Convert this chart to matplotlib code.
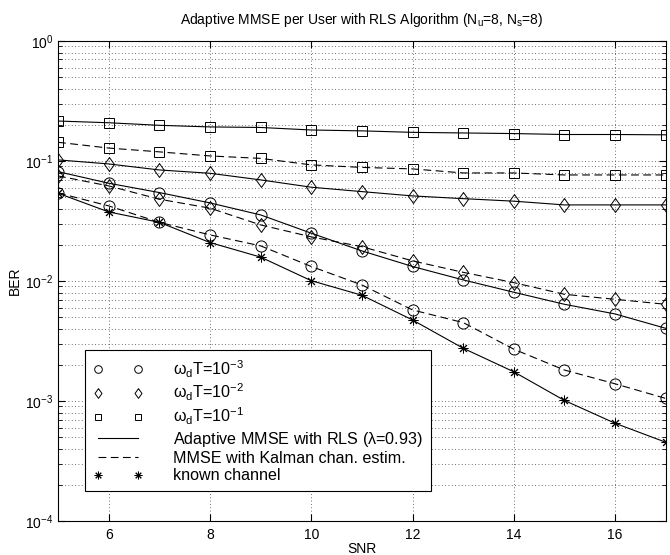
import matplotlib
matplotlib.use("Agg")
import matplotlib.pyplot as plt
from matplotlib.lines import Line2D
from matplotlib.ticker import LogLocator, NullFormatter

plt.rcParams['font.family'] = ['Liberation Sans', 'DejaVu Sans']
plt.rcParams['mathtext.fontset'] = 'custom'
plt.rcParams['mathtext.rm'] = 'Liberation Sans'
plt.rcParams['mathtext.it'] = 'Liberation Sans'

# Dados
snr = [5, 6, 7, 8, 9, 10, 11, 12, 13, 14, 15, 16, 17]

rls_1e1 = [0.215, 0.208, 0.198, 0.192, 0.190, 0.181, 0.178, 0.173, 0.171, 0.169, 0.166, 0.166, 0.165]
kal_1e1 = [0.143, 0.128, 0.119, 0.110, 0.105, 0.0927, 0.0883, 0.0858, 0.0794, 0.0794, 0.0764, 0.0764, 0.0764]
rls_1e2 = [0.102, 0.0944, 0.0841, 0.0789, 0.0695, 0.0604, 0.0555, 0.0511, 0.0485, 0.0462, 0.043, 0.043, 0.043]
kal_1e2 = [0.075, 0.0619, 0.048, 0.0404, 0.0293, 0.0233, 0.0193, 0.0147, 0.0118, 0.00968, 0.00774, 0.00703, 0.00639]
rls_1e3 = [0.0814, 0.0652, 0.0545, 0.0447, 0.0355, 0.0250, 0.0178, 0.0132, 0.0102, 0.00805, 0.00639, 0.00531, 0.00403]
kal_1e3 = [0.0541, 0.0422, 0.0308, 0.0242, 0.0196, 0.0132, 0.00926, 0.00573, 0.00450, 0.00270, 0.00181, 0.00139, 0.00105]
known = [0.0538, 0.0376, 0.0308, 0.0209, 0.0158, 0.01005, 0.0076, 0.00473, 0.00275, 0.00175, 0.00101, 0.000652, 0.000453]

fig = plt.figure(figsize=(6.7, 5.55), dpi=100)
ax = fig.add_axes([0.0866, 0.0613, 0.907, 0.865])

lw = 0.8
ms = 7
dash = (0, (7, 4))
star = (8, 2, 0)
diamante = [(0, 1), (0.72, 0), (0, -1), (-0.72, 0), (0, 1)]

def curva(y, ls, mk, msize=ms):
    ax.plot(snr, y, color='black', linestyle=ls, linewidth=lw, marker=mk,
            markersize=msize, markerfacecolor='none', markeredgecolor='black',
            markeredgewidth=0.7)

curva(rls_1e1, '-', 's')
curva(kal_1e1, dash, 's')
curva(rls_1e2, '-', diamante, 10)
curva(kal_1e2, dash, diamante, 10)
curva(rls_1e3, '-', 'o', 8)
curva(kal_1e3, dash, 'o', 8)
curva(known, '-', star, 7)

ax.set_yscale('log')
ax.set_xlim(5, 17)
ax.set_ylim(1e-4, 1)
ax.set_xticks([6, 8, 10, 12, 14, 16])
ax.yaxis.set_major_locator(LogLocator(base=10, numticks=10))
ax.yaxis.set_minor_locator(LogLocator(base=10, subs=range(2, 10), numticks=20))
ax.yaxis.set_minor_formatter(NullFormatter())

gstyle = dict(color='0.25', linestyle=(0, (1, 3)), linewidth=0.6)
ax.grid(True, which='major', axis='both', **gstyle)
ax.grid(True, which='minor', axis='y', **gstyle)

ax.tick_params(which='both', direction='in', top=True, right=True, labelsize=10)
ax.tick_params(which='major', length=5)
ax.tick_params(which='minor', length=3)
ax.tick_params(axis='x', pad=5)
for s in ax.spines.values():
    s.set_linewidth(0.8)

ax.set_xlabel('SNR', fontsize=10, labelpad=0)
ax.set_ylabel('BER', fontsize=10, labelpad=2)
ax.set_title(r'Adaptive MMSE per User with RLS Algorithm (N$_\mathrm{u}$=8, N$_\mathrm{s}$=8)',
             fontsize=10, pad=12)

# legenda com entradas próprias
mk = dict(color='black', markerfacecolor='none', markeredgewidth=0.7)
handles = [
    Line2D([], [], linestyle='none', marker='o', markersize=5.5, **mk),
    Line2D([], [], linestyle='none', marker=diamante, markersize=7, **mk),
    Line2D([], [], linestyle='none', marker='s', markersize=4.5, **mk),
    Line2D([], [], color='black', linestyle='-', linewidth=lw),
    Line2D([], [], color='black', linestyle=dash, linewidth=lw),
    Line2D([], [], linestyle='none', marker=star, markersize=5.5, **mk),
]
labels = [r'$\omega_d$T=10$^{-3}$', r'$\omega_d$T=10$^{-2}$', r'$\omega_d$T=10$^{-1}$',
          r'Adaptive MMSE with RLS ($\lambda$=0.93)',
          'MMSE with Kalman chan. estim.', 'known channel']
leg = ax.legend(handles, labels, loc='upper left', bbox_to_anchor=(0.044, 0.356),
                fontsize=11.6, numpoints=2, handlelength=3.1, handletextpad=1.9,
                labelspacing=0.15, borderpad=0.5, fancybox=False, framealpha=1,
                edgecolor='black', borderaxespad=0)
leg.get_frame().set_linewidth(0.8)

fig.savefig('out.png', dpi=100)
